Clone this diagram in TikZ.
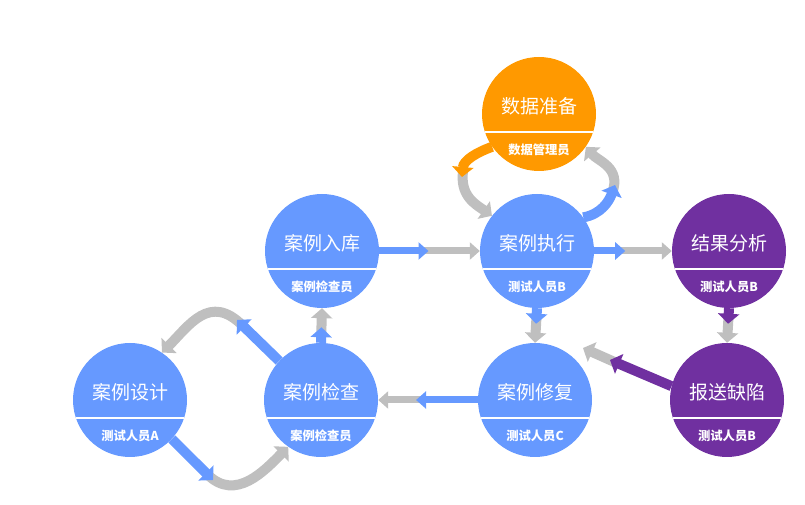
\documentclass[tikz,border=0pt]{standalone}
\usepackage{fontspec}
\setmainfont{Noto Sans CJK SC}
\usetikzlibrary{arrows.meta,calc}

\definecolor{caseblue}{HTML}{6699FF}
\definecolor{dataorange}{HTML}{FF9900}
\definecolor{resultpurple}{HTML}{7030A0}
\definecolor{flowgrey}{HTML}{BFBFBF}

\tikzset{
  stage/.style={circle,minimum size=114pt,inner sep=0pt},
  stagetitle/.style={text=white,font=\fontsize{19}{21}\selectfont},
  stagerole/.style={text=white,font=\fontsize{12.3}{14}\selectfont\bfseries},
  divider/.style={white,line width=1.3pt},
  flow/.style={line width=7pt,-{Triangle[width=17pt,length=10pt]}},
  thickflow/.style={line width=10pt,-{Triangle[width=21pt,length=10pt]}},
  greyflow/.style={flow,flowgrey,shorten <=-8pt},
  thickgreyflow/.style={thickflow,flowgrey,shorten <=-8pt}
}

\begin{document}
\begin{tikzpicture}[x=1pt,y=1pt]
\useasboundingbox (0,0) rectangle (805,505);

% stages
\foreach \nm/\x/\y/\col/\ttl/\who in {
  prep/539/391/dataorange/数据准备/数据管理员,
  store/322/254/caseblue/案例入库/案例检查员,
  exec/537/254/caseblue/案例执行/测试人员B,
  result/729/254/resultpurple/结果分析/测试人员B,
  design/130/105/caseblue/案例设计/测试人员A,
  check/321/105/caseblue/案例检查/案例检查员,
  fix/535/105/caseblue/案例修复/测试人员C,
  report/727/105/resultpurple/报送缺陷/测试人员B}
{
  \node[stage,fill=\col] (\nm) at (\x,\y) {};
  \node[stagetitle] (\nm-t) at ([yshift=8pt]\nm.center) {\ttl};
  \draw[divider] ([shift={(-54pt,-18pt)}]\nm.center) -- ([shift={(54pt,-18pt)}]\nm.center);
  \node[stagerole] (\nm-r) at ([yshift=-36pt]\nm.center) {\who};
}

% straight links
\coordinate (storeexec) at ($(store.east)!0.49!(exec.west)$);
\draw[greyflow] (storeexec) -- (exec.west);
\draw[flow,caseblue] (store.east) -- (storeexec);

\coordinate (execresult) at ($(exec.east)!0.4!(result.west)$);
\draw[greyflow] (execresult) -- (result.west);
\draw[flow,caseblue] (exec.east) -- (execresult);

\coordinate (fixcheck) at ($(fix.west)!0.62!(check.east)$);
\draw[greyflow] (fixcheck) -- (check.east);
\draw[flow,caseblue] (fix.west) -- (fixcheck);

\coordinate (execfix) at ($(exec.south)!0.45!(fix.north)$);
\draw[thickgreyflow] (execfix) -- (fix.north);
\draw[thickflow,caseblue] (exec.south) -- (execfix);

\coordinate (checkstore) at ($(check.north)!0.45!(store.south)$);
\draw[thickgreyflow] (checkstore) -- (store.south);
\draw[thickflow,caseblue] (check.north) -- (checkstore);

\coordinate (resultreport) at ($(result.south)!0.45!(report.north)$);
\draw[thickgreyflow] (resultreport) -- (report.north);
\draw[thickflow,resultpurple] (result.south) -- (resultreport);

\coordinate (reportfix) at (610,145);
\coordinate (fixin) at (583,157);
\draw[thickgreyflow] (reportfix) -- (fixin);
\draw[thickflow,resultpurple] (report.166) -- (reportfix);

% loops
\coordinate (prepexec) at (462,328);
\draw[thickgreyflow] (prepexec) to[out=-100,in=145] (exec.142);
\draw[thickflow,dataorange] (prep.215) to[out=200,in=85] (prepexec);

\coordinate (execprep) at (615,320);
\draw[thickgreyflow] (execprep) to[out=70,in=-50] (prep.-35);
\draw[thickflow,caseblue] (exec.36) to[out=10,in=250] (execprep);

\coordinate (designcheck) at (213,25);
\draw[thickgreyflow] (designcheck) to[out=-45,in=225] (check.235);
\draw[thickflow,caseblue] (design.-43) -- (designcheck);

\coordinate (checkdesign) at (237,185);
\draw[thickgreyflow] (checkdesign) to[out=135,in=45,looseness=1.2] (design.56);
\draw[thickflow,caseblue] (check.137) -- (checkdesign);
\end{tikzpicture}
\end{document}
